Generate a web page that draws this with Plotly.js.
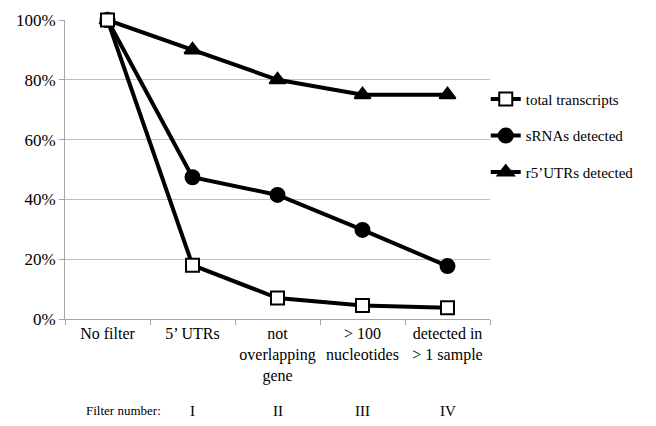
<!DOCTYPE html>
<html>
<head>
<meta charset="utf-8">
<script src="https://cdn.plot.ly/plotly-3.0.1.min.js"></script>
<style>html,body{margin:0;padding:0;background:#fff;}#chart{width:656px;height:426px;}</style>
</head>
<body>
<div id="chart"></div>
<script>
var categories = ["No filter", "5’ UTRs", "not<br>overlapping<br>gene", "> 100<br>nucleotides", "detected in<br>> 1 sample"];
var filterNumbers = ["I", "II", "III", "IV"];
var totalTranscripts = [100, 18, 7, 4.5, 3.8];
var sRNAsDetected = [100, 47.4, 41.5, 29.8, 17.7];
var r5UTRsDetected = [100, 90, 80, 75, 75];
var seriesNames = ["total transcripts", "sRNAs detected", "r5’UTRs detected"];

var font = "Liberation Serif, DejaVu Serif, serif";
function mk(name, vals, symbol, fill, grp, rank) {
  return {
    type: "scatter", mode: "lines+markers", name: name, legendgroup: grp, legendrank: rank,
    x: categories, y: vals,
    line: {color: "#000", width: 4},
    marker: {symbol: symbol, size: symbol === "square" ? 13 : 14, color: fill, line: {color: "#000", width: 2}},
    cliponaxis: false
  };
}
var traces = [
  mk(seriesNames[2], r5UTRsDetected, "triangle-up", "#000", "c", 3),
  mk(seriesNames[1], sRNAsDetected, "circle", "#000", "b", 2),
  mk(seriesNames[0], totalTranscripts, "square", "#fff", "a", 1)
];

var annotations = [{
  text: "Filter number:", xref: "paper", yref: "paper", x: 0.045, y: -0.307,
  xanchor: "left", yanchor: "middle", showarrow: false, font: {family: font, size: 13, color: "#000"}
}];
filterNumbers.forEach(function (t, i) {
  annotations.push({
    text: t, xref: "x", yref: "paper", x: i + 1, y: -0.307, xanchor: "center", yanchor: "middle",
    showarrow: false, font: {family: font, size: 15, color: "#000"}
  });
});

var layout = {
  width: 656, height: 426,
  margin: {l: 65, r: 166, t: 20, b: 107, autoexpand: false},
  paper_bgcolor: "#fff", plot_bgcolor: "#fff",
  font: {family: font, color: "#000"},
  showlegend: true,
  legend: {
    x: 0.99, y: 0.79, xanchor: "left", yanchor: "top",
    font: {family: font, size: 15, color: "#000"},
    traceorder: "grouped", tracegroupgap: 14, itemwidth: 30,
    bgcolor: "rgba(0,0,0,0)"
  },
  xaxis: {
    type: "category", range: [-0.5, 4.5], tickson: "boundaries", tickangle: 0,
    showline: true, linecolor: "#a6a6a6", linewidth: 1,
    ticks: "outside", ticklen: 5, tickcolor: "#a6a6a6",
    showgrid: false, zeroline: false,
    tickfont: {family: font, size: 16, color: "#000"}
  },
  yaxis: {
    range: [0, 100], tickvals: [0, 20, 40, 60, 80, 100],
    ticktext: ["0%", "20%", "40%", "60%", "80%", "100%"],
    showline: true, linecolor: "#a6a6a6", linewidth: 1,
    ticks: "outside", ticklen: 5, tickcolor: "#a6a6a6",
    showgrid: true, gridcolor: "#bfbfbf", gridwidth: 1, zeroline: false,
    tickfont: {family: font, size: 17, color: "#000"}
  },
  annotations: annotations
};
Plotly.newPlot("chart", traces, layout, {displayModeBar: false, staticPlot: true});
</script>
</body>
</html>
